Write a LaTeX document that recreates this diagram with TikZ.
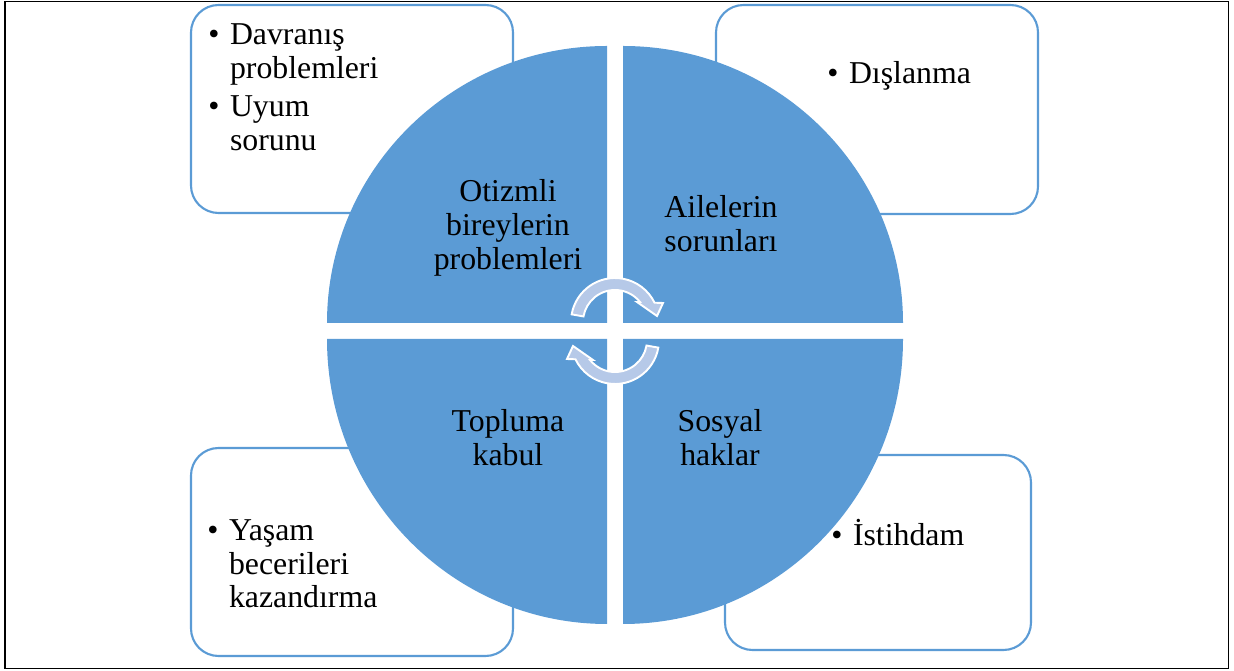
\documentclass[tikz,border=0pt]{standalone}
\usepackage{fontspec}
\setmainfont{Liberation Serif}
\definecolor{quadblue}{RGB}{91,155,213}
\definecolor{arrowblue}{RGB}{182,201,232}
\newcommand{\bodysize}{\fontsize{18.1pt}{19.2pt}\selectfont}
\tikzset{
  listbox/.style={draw=quadblue,line width=1.2pt,rounded corners=0.55cm},
  quadtext/.style={align=center,font=\bodysize,inner sep=0pt},
  itemtext/.style={anchor=base west,font=\bodysize,inner sep=0pt},
  arrowfill/.style={fill=arrowblue,draw=white,line width=1.1pt,line join=miter}
}

\begin{document}
\begin{tikzpicture}[x=0.02cm,y=-0.02cm]
\useasboundingbox (0,0) rectangle (1234,671);
\draw[line width=1.1pt] (5,1.5) rectangle (1228.5,668.5);
% outer boxes
\draw[listbox] (191,5) rectangle (513,213);
\draw[listbox] (716,5) rectangle (1038,214);
\draw[listbox] (191,448) rectangle (513,656);
\draw[listbox] (725,455) rectangle (1031,650);
% four quarters of the circle
\foreach \cx/\cy/\a/\ry in {607/323/180/277,623/323/270/277,623/339/0/285,607/339/90/285}
  {\fill[quadblue] (\cx,\cy) -- ++(\a:280 and \ry)
     arc[start angle=\a,end angle=\a+90,x radius=280,y radius=\ry] -- cycle;}
% quarter labels
\node[quadtext] (otizm) at (508,228) {Otizmli\\bireylerin\\problemleri};
\node[quadtext] (aile) at (721,223.5) {Ailelerin\\sorunları};
\node[quadtext] (toplum) at (508,437.5) {Topluma\\kabul};
\node[quadtext] (sosyal) at (720,437.5) {Sosyal\\haklar};
% box lists
\node[itemtext] (davranis) at (208,45) {\begin{tabular}[t]{@{}l@{\hspace{6pt}}l@{}}
  • & Davranış\\ & problemleri\\[2.3pt] • & Uyum\\ & sorunu\end{tabular}};
\node[itemtext] (dislanma) at (827,84) {\begin{tabular}[t]{@{}l@{\hspace{6pt}}l@{}}
  • & Dışlanma\end{tabular}};
\node[itemtext] (yasam) at (207,540.5) {\begin{tabular}[t]{@{}l@{\hspace{6pt}}l@{}}
  • & Yaşam\\ & becerileri\\ & kazandırma\end{tabular}};
\node[itemtext] (istihdam) at (831,545.5) {\begin{tabular}[t]{@{}l@{\hspace{6pt}}l@{}}
  • & İstihdam\end{tabular}};
% cycle arrows in the middle
\foreach \r in {0,180}
  {\filldraw[arrowfill,rotate around={\r:(615,331)},shift={(615,322)}]
     (-170:44) arc[start angle=-170,end angle=-26,radius=44] -- (48,-19) -- (42,-6)
     -- (22,-20) -- (-39:32) arc[start angle=-39,end angle=-170,radius=32] -- cycle;}
\end{tikzpicture}
\end{document}
